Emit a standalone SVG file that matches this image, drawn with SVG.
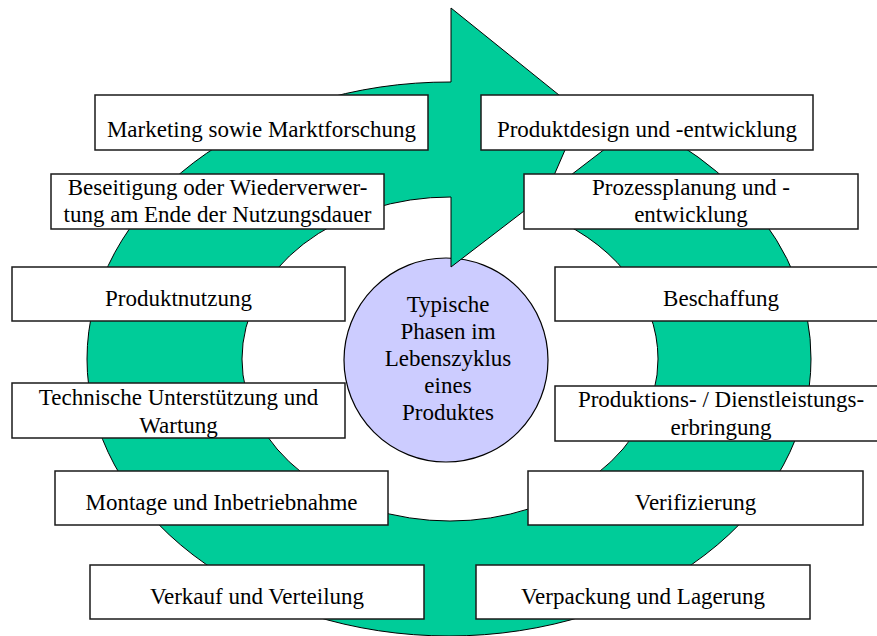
<svg xmlns="http://www.w3.org/2000/svg" width="877" height="636" viewBox="0 0 877 636">
  <style>
    .ring { fill: #00CC99; fill-rule: evenodd; stroke: #000; stroke-width: 1; stroke-linejoin: miter; }
    .hub { fill: #CCCCFF; stroke: #000; stroke-width: 1.2; }
    .box { fill: #FFFFFF; stroke: #1a1a1a; stroke-width: 1.5; }
    text { font-family: "Liberation Serif", "Times New Roman", serif; font-size: 23px; fill: #000; text-anchor: middle; }
  </style>
  <rect x="0" y="0" width="877" height="636" fill="#FFFFFF"/>

  <!-- central hub -->
  <g id="hub">
    <circle class="hub" cx="446" cy="360" r="102"/>
    <text x="448" y="312">Typische</text>
    <text x="448" y="339">Phasen im</text>
    <text x="448" y="366">Lebenszyklus</text>
    <text x="448" y="393">eines</text>
    <text x="448" y="420">Produktes</text>
  </g>

  <!-- circular arrow: elliptical band running clockwise into an arrowhead at the top;
       where the tail overlaps the head the even-odd rule leaves it open -->
  <g id="connectors">
    <path class="ring" d="M586,101.7
      A362,277 0 0 1 811,359
      A362,277 0 0 1 449,636
      A362,277 0 0 1 87,359
      A362,277 0 0 1 451,82
      L451,8 L615.7,140.7 L451,267 L451,197
      A208,162 0 0 0 242,359
      A208,162 0 0 0 450,521
      A208,162 0 0 0 658,359
      A208,162 0 0 0 538,212.2 Z"/>
  </g>

  <!-- left column -->
  <g id="marketing">
    <rect class="box" x="95" y="95" width="333" height="55"/>
    <text x="261.5" y="137">Marketing sowie Marktforschung</text>
  </g>
  <g id="beseitigung">
    <rect class="box" x="51" y="174" width="333" height="55"/>
    <text x="217.5" y="195">Beseitigung oder Wiederverwer-</text>
    <text x="217.5" y="222">tung am Ende der Nutzungsdauer</text>
  </g>
  <g id="produktnutzung">
    <rect class="box" x="12" y="267" width="333" height="54"/>
    <text x="178.5" y="306">Produktnutzung</text>
  </g>
  <g id="technische-unterstuetzung">
    <rect class="box" x="12" y="383" width="333" height="55"/>
    <text x="178.5" y="405">Technische Unterstützung und</text>
    <text x="178.5" y="432.5">Wartung</text>
  </g>
  <g id="montage">
    <rect class="box" x="55" y="471" width="333" height="54"/>
    <text x="221.5" y="510">Montage und Inbetriebnahme</text>
  </g>
  <g id="verkauf">
    <rect class="box" x="90" y="565" width="334" height="54"/>
    <text x="257" y="604">Verkauf und Verteilung</text>
  </g>

  <!-- right column -->
  <g id="produktdesign">
    <rect class="box" x="481" y="95" width="332" height="55"/>
    <text x="647" y="137">Produktdesign und -entwicklung</text>
  </g>
  <g id="prozessplanung">
    <rect class="box" x="524" y="174" width="334" height="55"/>
    <text x="691" y="195">Prozessplanung und -</text>
    <text x="691" y="222">entwicklung</text>
  </g>
  <g id="beschaffung">
    <rect class="box" x="555" y="267" width="333" height="54"/>
    <text x="721" y="306">Beschaffung</text>
  </g>
  <g id="produktion">
    <rect class="box" x="555" y="386" width="333" height="55"/>
    <text x="721" y="407">Produktions- / Dienstleistungs-</text>
    <text x="721" y="435">erbringung</text>
  </g>
  <g id="verifizierung">
    <rect class="box" x="528" y="471" width="335" height="54"/>
    <text x="695.5" y="510">Verifizierung</text>
  </g>
  <g id="verpackung">
    <rect class="box" x="476" y="565" width="334" height="54"/>
    <text x="643" y="604">Verpackung und Lagerung</text>
  </g>
</svg>
